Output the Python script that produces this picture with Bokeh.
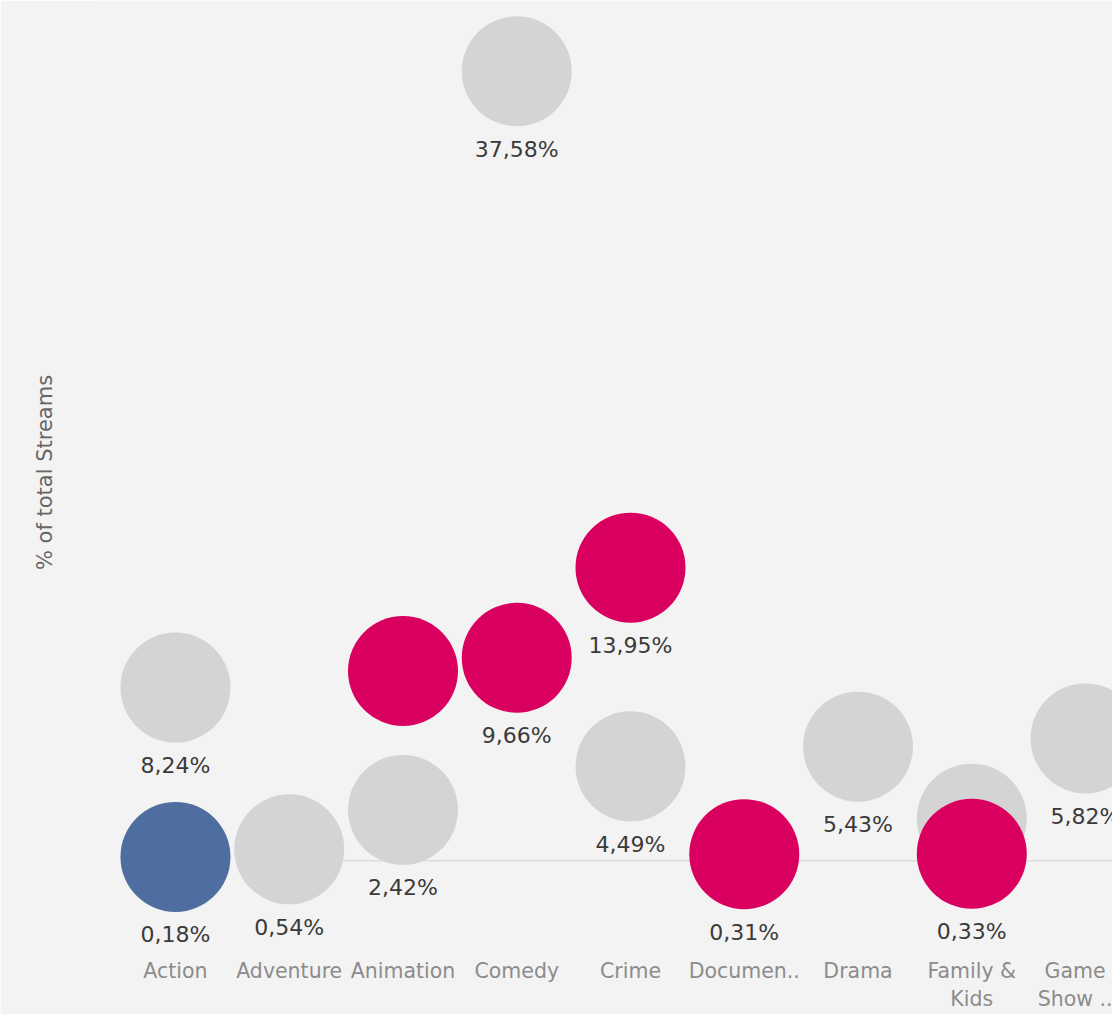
from bokeh.plotting import figure
from bokeh.models import Range1d, FixedTicker, ColumnDataSource
from bokeh.core.properties import value
from bokeh.embed import file_html
from bokeh.resources import INLINE

# ---- data -------------------------------------------------------------
categories = ["Action", "Adventure", "Animation", "Comedy", "Crime",
              "Documen..", "Drama", "Family &\nKids", "Game\nShow .."]

# grey series (share of total streams, %)
overall_share = [8.24, 0.54, 2.42, 37.58, 4.49, None, 5.43, 2.00, 5.82]
overall_labels = ["8,24%", "0,54%", "2,42%", "37,58%", "4,49%", "", "5,43%", "", "5,82%"]

# coloured series (share of total streams, %)
accent_share = [0.18, None, 9.03, 9.66, 13.95, 0.31, None, 0.33, None]
accent_labels = ["0,18%", "", "", "9,66%", "13,95%", "0,31%", "", "0,33%", ""]
selected_category = "Action"
baseline_from = "Adventure"

# ---- styles -----------------------------------------------------------
BG = "#f3f3f3"
GREY = "#d4d4d4"
PINK = "#d9005f"
BLUE = "#4f6ea0"
FONT = "DejaVu Sans"


def build(values, labels, colour_fn):
    xs, ys, ts, cs = [], [], [], []
    for i, (v, t) in enumerate(zip(values, labels)):
        if v is None:
            continue
        xs.append(i)
        ys.append(v)
        ts.append(t)
        cs.append(colour_fn(categories[i]))
    return ColumnDataSource(dict(x=xs, y=ys, label=ts, color=cs))


grey_src = build(overall_share, overall_labels, lambda c: GREY)
accent_src = build(accent_share, accent_labels,
                   lambda c: BLUE if c == selected_category else PINK)

p = figure(width=1112, height=1014, output_backend="svg", toolbar_location=None,
           x_range=Range1d(-0.659, 8.237), y_range=Range1d(-3.99, 40.95),
           min_border_left=100, min_border_right=0, min_border_top=0,
           min_border_bottom=40,
           background_fill_color=BG, border_fill_color=BG,
           outline_line_color=None)

p.xgrid.visible = False
p.ygrid.visible = False

# x axis with category names
xa = p.xaxis[0]
xa.ticker = FixedTicker(ticks=list(range(len(categories))))
xa.major_label_overrides = {i: c for i, c in enumerate(categories)}
xa.axis_line_color = None
xa.major_tick_line_color = None
xa.minor_tick_line_color = None
xa.major_label_standoff = 8
xa.major_label_text_font = FONT
xa.major_label_text_font_size = "20.5px"
xa.major_label_text_color = "#8c8c8c"

# y axis: title only
ya = p.yaxis[0]
ya.ticker = FixedTicker(ticks=[])
ya.axis_line_color = None
ya.major_tick_line_color = None
ya.minor_tick_line_color = None
ya.major_label_standoff = 0
ya.axis_label = "% of total Streams"
ya.axis_label_text_font = FONT
ya.axis_label_text_font_style = "normal"
ya.axis_label_text_font_size = "21px"
ya.axis_label_text_color = "#666666"
ya.axis_label_standoff = 44

# baseline at 0 %
x0 = categories.index(baseline_from)
p.segment(x0=[x0], y0=[0], x1=[len(categories)], y1=[0],
          line_color="#dcdcdc", line_width=1.5)

p.scatter("x", "y", source=grey_src, size=110, fill_color="color", line_color=None)
p.scatter("x", "y", source=accent_src, size=110, fill_color="color", line_color=None)

for src in (grey_src, accent_src):
    p.text("x", "y", text="label", source=src, text_font=value(FONT),
           text_font_size="22px", text_color="#3a3a3a", text_align="center",
           text_baseline="middle", y_offset=78)

open("out.html", "w").write(file_html(p, INLINE))
